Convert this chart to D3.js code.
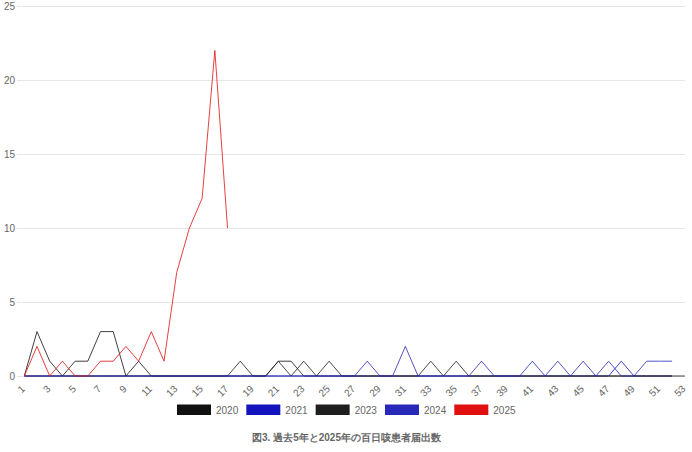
<!DOCTYPE html>
<html><head><meta charset="utf-8">
<script src="https://cdn.jsdelivr.net/npm/d3@7"></script>
<style>
html,body{margin:0;padding:0;background:#fff;}
svg{display:block;font-family:"Liberation Sans",Arial,sans-serif;}
</style></head>
<body><svg id="c" width="692" height="452"></svg>
<script>
const weeks = d3.range(1, 54);
const seriesNames = ["2020", "2021", "2023", "2024", "2025"];
const seriesColors = ["#111111", "#1414be", "#1e1e1e", "#2828b9", "#e01010"];
const values2020 = [0,3,1,0,1,1,3,3,0,1,0,0,0,0,0,0,0,0,0,0,1,1,0,0,0,0,0,0,0,0,0,0,0,0,0,0,0,0,0,0,0,0,0,0,0,0,0,0,0,0,0,0,0];
const values2021 = [0,0,0,0,0,0,0,0,0,0,0,0,0,0,0,0,0,0,0,0,0,0,0,0,0,0,0,0,0,0,0,0,0,0,0,0,0,0,0,0,0,0,0,0,0,0,0,1,0,0,0,0];
const values2023 = [0,0,0,0,0,0,0,0,0,0,0,0,0,0,0,0,0,1,0,0,1,0,1,0,1,0,0,0,0,0,0,0,1,0,1,0,0,0,0,0,0,0,0,0,0,0,0,0,0,0,0,0];
const values2024 = [0,0,0,0,0,0,0,0,0,0,0,0,0,0,0,0,0,0,0,0,0,0,0,0,0,0,0,1,0,0,2,0,0,0,0,0,1,0,0,0,1,0,1,0,1,0,1,0,0,1,1,1];
const values2025 = [0,2,0,1,0,0,1,1,2,1,3,1,7,10,12,22,10];
const yTicks = [0,5,10,15,20,25];
const xTickLabels = weeks.filter(w => w % 2 === 1);
const title = "図3. 過去5年と2025年の百日咳患者届出数";

const allValues = [values2020, values2021, values2023, values2024, values2025];

const svg = d3.select("#c");
const x = d3.scaleLinear().domain([1, 53]).range([24.3, 684.8]);
const y = d3.scaleLinear().domain([0, 25]).range([376, 6]);
const textColor = "#666";

// grid + y labels
const gy = svg.append("g");
gy.selectAll("line").data(yTicks).join("line")
  .attr("x1", 17).attr("x2", 685)
  .attr("y1", d => Math.round(y(d)) + 0.5).attr("y2", d => Math.round(y(d)) + 0.5)
  .attr("stroke", "#e6e6e6").attr("stroke-width", 1);
gy.selectAll("text").data(yTicks).join("text")
  .attr("x", 15).attr("y", d => y(d)).attr("dy", "0.35em")
  .attr("text-anchor", "end").attr("font-size", 10).attr("fill", textColor)
  .text(d => d);

// x labels
svg.append("g").selectAll("text").data(xTickLabels).join("text")
  .attr("transform", d => `translate(${x(d) - 1},${387}) rotate(-45)`)
  .attr("text-anchor", "end").attr("dy", "0.35em")
  .attr("font-size", 10).attr("fill", textColor)
  .text(d => d);

// lines
const line = d3.line().x((d, i) => x(i + 1)).y(d => y(d));
const lg = svg.append("g");
allValues.forEach((vals, k) => {
  lg.append("path").datum(vals)
    .attr("d", line).attr("fill", "none")
    .attr("stroke", seriesColors[k]).attr("stroke-width", 1)
    .attr("stroke-opacity", 0.8).attr("stroke-linejoin", "miter");
});

// legend
const legX = d3.scaleLinear().domain([0, 4]).range([177, 454.3]);
const leg = svg.append("g").selectAll("g").data(seriesNames).join("g")
  .attr("transform", (d, i) => `translate(${legX(i)},404.5)`);
leg.append("rect").attr("width", 34).attr("height", 10.5)
  .attr("fill", (d, i) => seriesColors[i]);
leg.append("text").attr("x", 39).attr("y", 5.5).attr("dy", "0.35em")
  .attr("font-size", 10).attr("fill", textColor).text(d => d);

// title
svg.append("text").attr("x", 346.5).attr("y", 437).attr("dy", "0.35em")
  .attr("text-anchor", "middle").attr("font-size", 10).attr("font-weight", "bold")
  .attr("fill", textColor).text(title);
</script></body></html>
